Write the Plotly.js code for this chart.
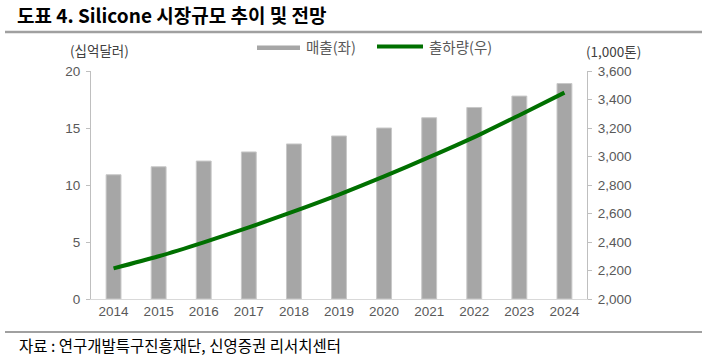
<!DOCTYPE html>
<html>
<head>
<meta charset="utf-8">
<script src="https://cdn.plot.ly/plotly-3.0.1.min.js"></script>
<style>html,body{margin:0;padding:0;background:#fff;}#chart{width:707px;height:356px;}</style>
</head>
<body>
<div id="chart"></div>
<script>
const years = ['2014','2015','2016','2017','2018','2019','2020','2021','2022','2023','2024'];
const sales = [10.9, 11.6, 12.1, 12.9, 13.6, 14.3, 15.0, 15.9, 16.8, 17.8, 18.9];
const shipments = [2215, 2300, 2398, 2503, 2615, 2733, 2860, 2995, 3136, 3290, 3448];
const leftTicks = [0, 5, 10, 15, 20];
const rightTicks = [2000, 2200, 2400, 2600, 2800, 3000, 3200, 3400, 3600];

const FONT = '"Liberation Sans", Arial, "Noto Sans CJK KR", sans-serif';
const KFONT = '"Noto Sans CJK KR", "Liberation Sans", sans-serif';

const L = 91, R = 587, T = 71, B = 299, W = 707, H = 356;
const px = x => (x - L) / (R - L);
const py = y => (B - y) / (B - T);

const traces = [
  {type:'bar', x: years, y: sales, name:'매출(좌)', yaxis:'y',
   marker:{color:'#a6a6a6', line:{color:'#c8c8c8', width:1}}, hoverinfo:'skip'},
  {type:'scatter', mode:'lines', x: years, y: shipments, name:'출하량(우)', yaxis:'y2',
   line:{color:'#007000', width:4, shape:'spline', smoothing:0.8}, hoverinfo:'skip'}
];

const layout = {
  width: W, height: H,
  margin:{l:L, r:W-R, t:T, b:H-B, pad:0},
  paper_bgcolor:'#fff', plot_bgcolor:'#fff',
  showlegend:false,
  bargap:0.67,
  font:{family:FONT, size:13, color:'#595959'},
  title:{text:'<b>도표 4. Silicone 시장규모 추이 및 전망</b>', xref:'container', yref:'container',
         x:17/W, xanchor:'left', y:1-16/H, yanchor:'middle',
         font:{family:KFONT, size:19, color:'#000'}},
  xaxis:{type:'category', range:[-0.5,10.5], showline:true, linecolor:'#d9d9d9', linewidth:1,
         ticks:'', showgrid:false, zeroline:false, tickfont:{size:13.5, color:'#595959', family:FONT}, fixedrange:true},
  yaxis:{range:[0,20], tickvals:leftTicks, ticktext:leftTicks.map(String), showline:true, linecolor:'#bfbfbf', linewidth:1,
         ticks:'outside', ticklen:4, tickcolor:'#bfbfbf', showgrid:false, zeroline:false,
         tickfont:{size:13.5, color:'#595959', family:FONT}, ticklabelstandoff:3},
  yaxis2:{range:[2000,3600], overlaying:'y', side:'right', tickvals:rightTicks,
          ticktext:rightTicks.map(v=>v.toLocaleString('en-US')), showline:true, linecolor:'#bfbfbf', linewidth:1,
          ticks:'outside', ticklen:4, tickcolor:'#bfbfbf', showgrid:false, zeroline:false,
          tickfont:{size:13.5, color:'#595959', family:FONT}, ticklabelstandoff:3},
  shapes:[
    {type:'line', xref:'paper', yref:'paper', x0:px(5), x1:px(702), y0:py(32), y1:py(32), line:{color:'#a0a0a0', width:2.5}},
    {type:'line', xref:'paper', yref:'paper', x0:px(5), x1:px(702), y0:py(332), y1:py(332), line:{color:'#a0a0a0', width:2}},
    {type:'rect', xref:'paper', yref:'paper', x0:px(257), x1:px(300), y0:py(50), y1:py(45.5), fillcolor:'#a6a6a6', line:{width:0}},
    {type:'line', xref:'paper', yref:'paper', x0:px(377), x1:px(423), y0:py(46.5), y1:py(46.5), line:{color:'#007000', width:4}}
  ],
  annotations:[
    {text:'(십억달러)', xref:'paper', yref:'paper', x:px(99), y:py(50), xanchor:'center', yanchor:'middle', showarrow:false,
     font:{family:KFONT, size:13.5, color:'#404040'}},
    {text:'(1,000톤)', xref:'paper', yref:'paper', x:px(613), y:py(51), xanchor:'center', yanchor:'middle', showarrow:false,
     font:{family:KFONT, size:13.5, color:'#404040'}},
    {text:'매출(좌)', xref:'paper', yref:'paper', x:px(304), y:py(47), xanchor:'left', yanchor:'middle', showarrow:false,
     font:{family:KFONT, size:14.5, color:'#595959'}},
    {text:'출하량(우)', xref:'paper', yref:'paper', x:px(427), y:py(46), xanchor:'left', yanchor:'middle', showarrow:false,
     font:{family:KFONT, size:14.5, color:'#595959'}},
    {text:'자료 : 연구개발특구진흥재단, 신영증권 리서치센터', xref:'paper', yref:'paper', x:px(17), y:py(345), xanchor:'left', yanchor:'middle', showarrow:false,
     font:{family:KFONT, size:15.5, color:'#000'}}
  ]
};

Plotly.newPlot('chart', traces, layout, {staticPlot:true, displayModeBar:false});
</script>
</body>
</html>
